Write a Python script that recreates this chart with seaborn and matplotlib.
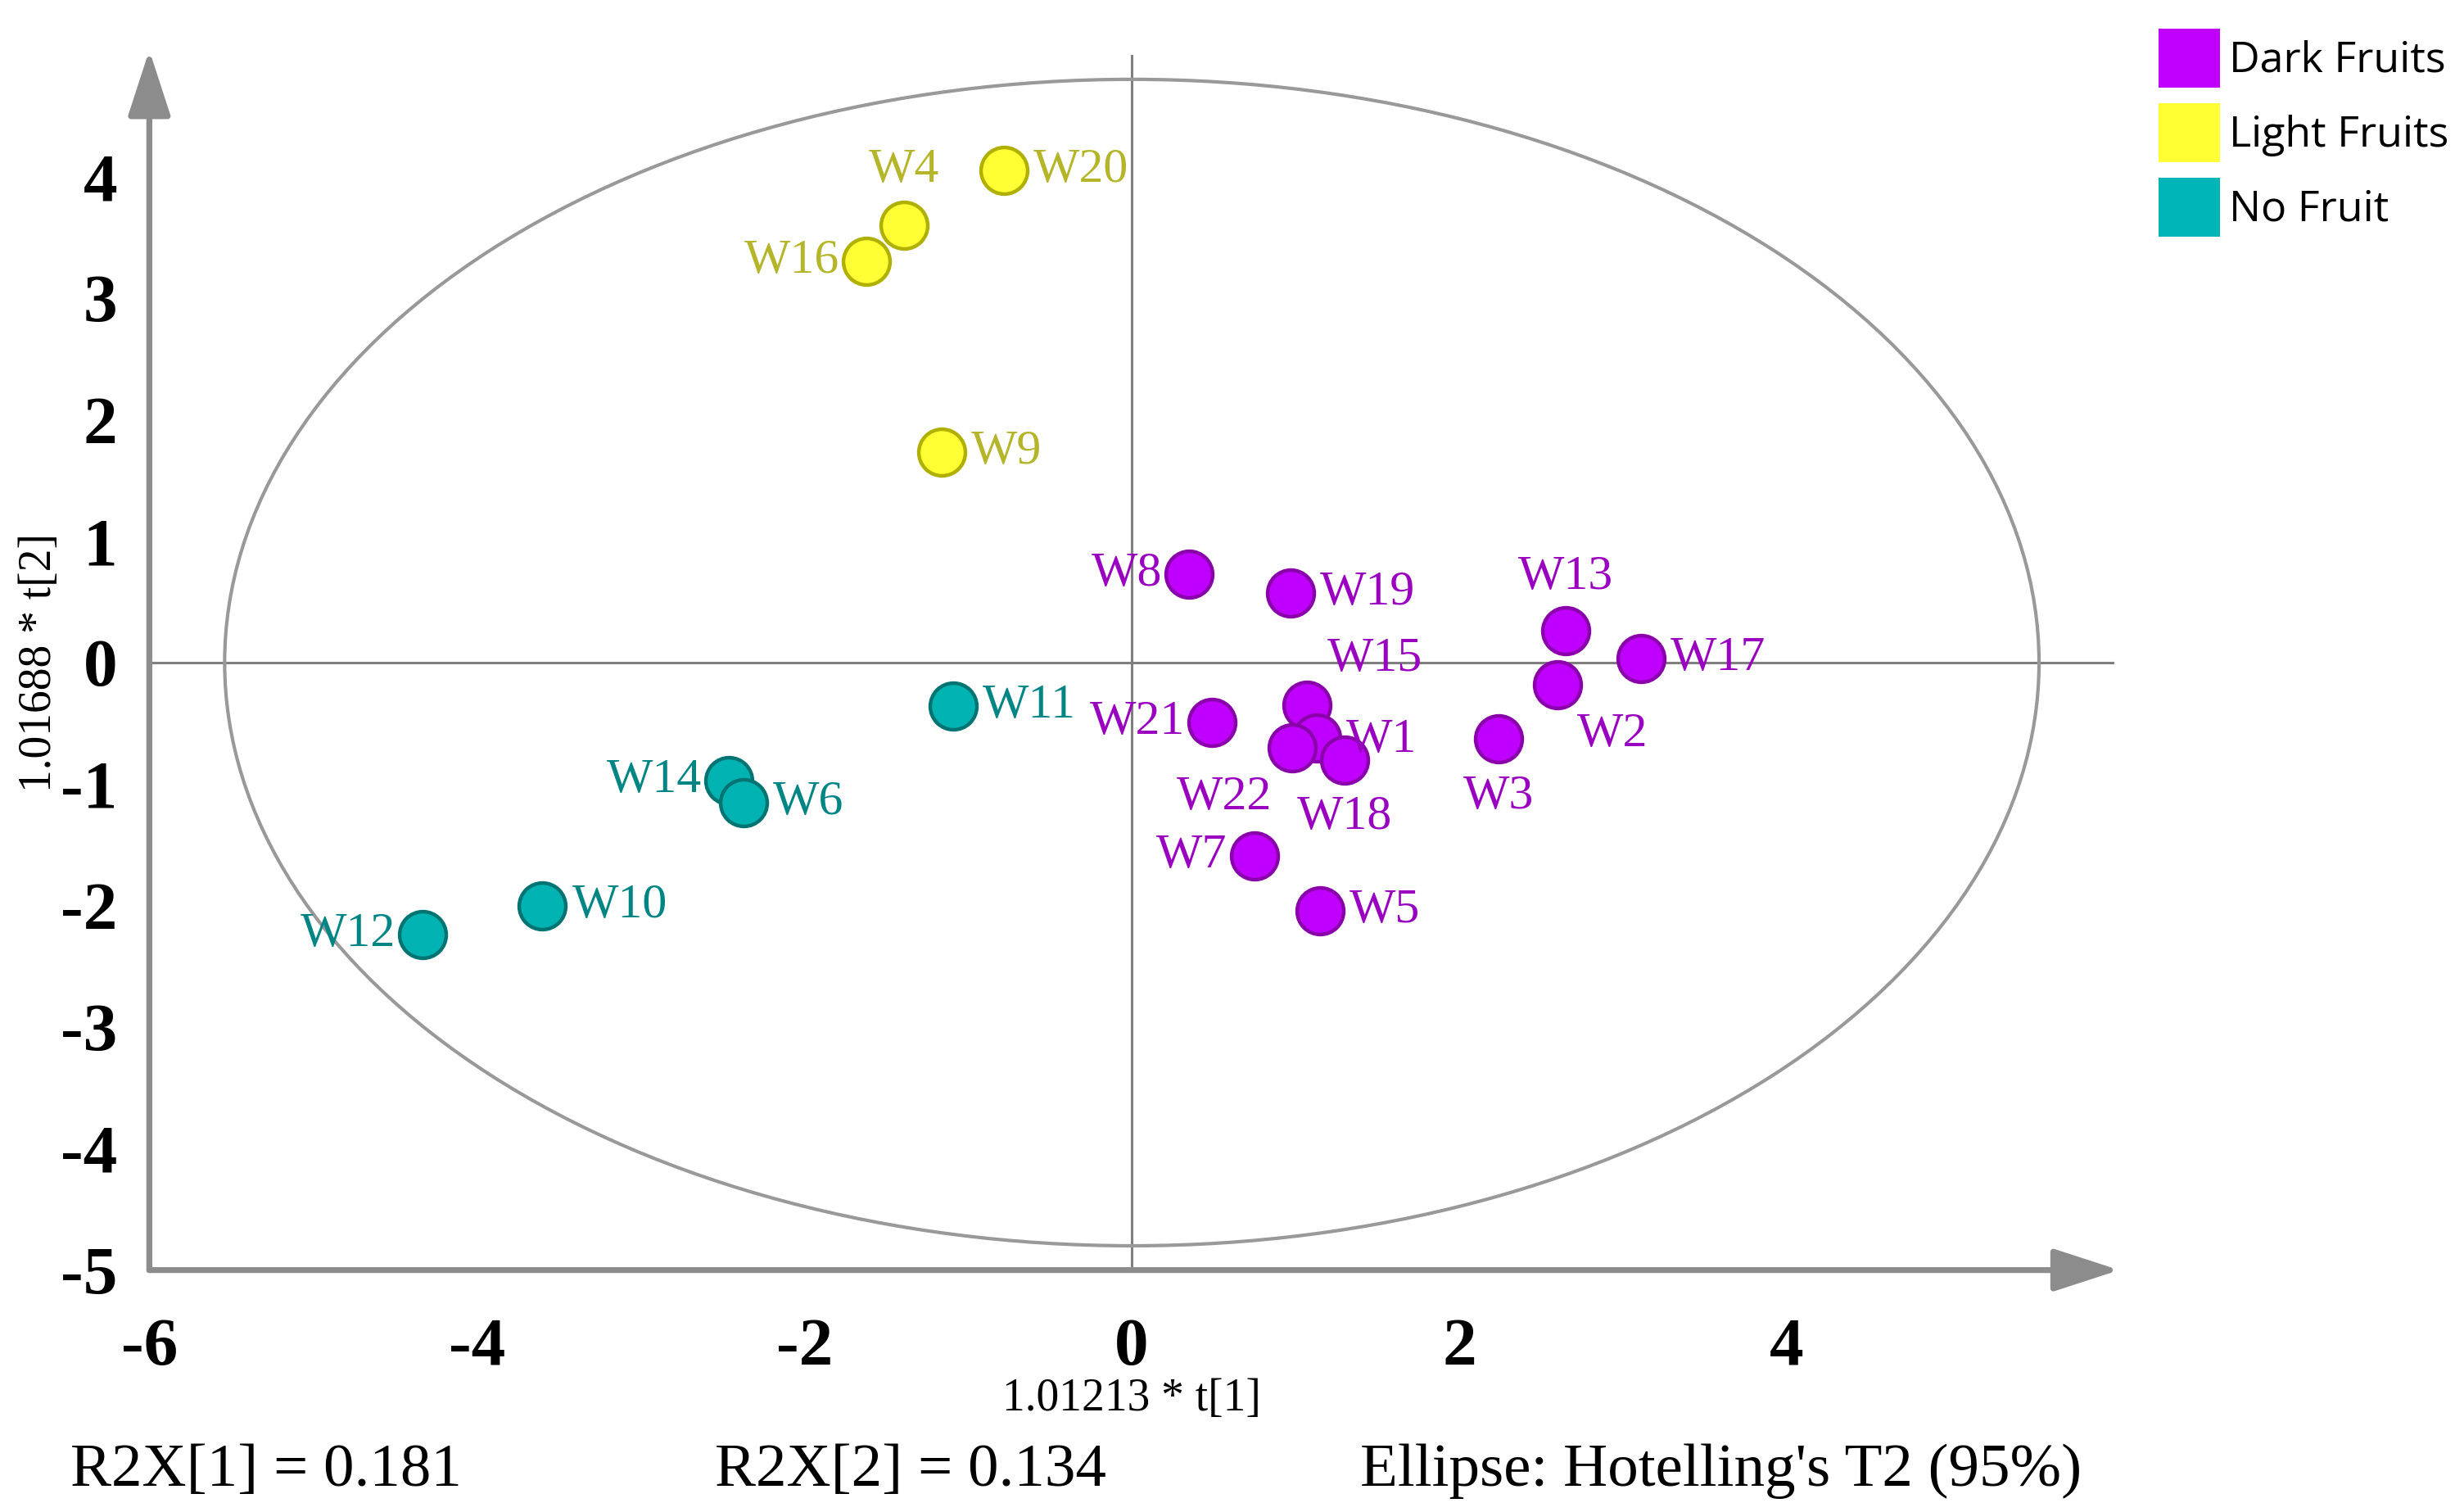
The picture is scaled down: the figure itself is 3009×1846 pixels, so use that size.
import numpy as np
import pandas as pd
import matplotlib
matplotlib.use("Agg")
import matplotlib.pyplot as plt
from matplotlib.patches import Ellipse, Patch
import seaborn as sns

# ---------------- data ----------------
samples = ["W20", "W4", "W16", "W9",
           "W11", "W14", "W6", "W10", "W12",
           "W8", "W19", "W13", "W17", "W2", "W3", "W21", "W15", "W1", "W22", "W18", "W7", "W5"]
groups = ["Light Fruits"] * 4 + ["No Fruit"] * 5 + ["Dark Fruits"] * 13
t1 = [-0.78, -1.39, -1.62, -1.16,
      -1.09, -2.46, -2.37, -3.60, -4.33,
      0.35, 0.97, 2.65, 3.11, 2.60, 2.24, 0.49, 1.07, 1.13, 0.98, 1.30, 0.75, 1.15]
t2 = [4.05, 3.60, 3.30, 1.73,
      -0.36, -0.97, -1.15, -2.00, -2.24,
      0.73, 0.57, 0.26, 0.03, -0.18, -0.63, -0.49, -0.35, -0.62, -0.70, -0.80, -1.59, -2.04]
legend_order = ["Dark Fruits", "Light Fruits", "No Fruit"]
x_major = [-6, -4, -2, 0, 2, 4]
x_minor = [-5, -3, -1, 1, 3, 5]
y_major = [-5, -4, -3, -2, -1, 0, 1, 2, 3, 4]
y_minor = [-4.5, -3.5, -2.5, -1.5, -0.5, 0.5, 1.5, 2.5, 3.5, 4.5]
ellipse_a, ellipse_b = 5.54, 4.80
r2x = [0.181, 0.134]

# label placement (side, dx pt, dy pt)
label_pos = {
    "W20": ("r", 0, 0), "W4": ("c", 0, 24), "W16": ("l", 0, 0), "W9": ("r", 0, 0),
    "W11": ("r", 0, 0), "W14": ("l", 0, 0), "W6": ("r", 0, 0), "W10": ("r", 0, 0), "W12": ("l", 0, 0),
    "W8": ("l", 0, 0), "W19": ("r", 0, 0), "W13": ("c", 0, 23.5), "W17": ("r", 0, 0),
    "W2": ("c", 24, -22), "W3": ("c", 0, -25.5), "W21": ("l", 0, 0), "W15": ("c", 30, 20),
    "W1": ("r", 0, -1), "W22": ("c", -30, -22), "W18": ("c", 0, -25.5), "W7": ("l", 0, 0), "W5": ("r", 0, 0),
}

fill_col = {"Dark Fruits": "#BF00FF", "Light Fruits": "#FFFF33", "No Fruit": "#00B3B3"}
edge_col = {"Dark Fruits": "#8A00AA", "Light Fruits": "#B0B000", "No Fruit": "#007373"}
text_col = {"Dark Fruits": "#9A00C0", "Light Fruits": "#B5B52A", "No Fruit": "#008585"}
legend_col = {"Dark Fruits": "#BF00FF", "Light Fruits": "#FFFF33", "No Fruit": "#00B5B5"}

df = pd.DataFrame({"sample": samples, "group": groups, "t1": t1, "t2": t2})

# ---------------- style ----------------
sns.set_theme(style="white")
plt.rcParams["font.family"] = ["Liberation Serif", "DejaVu Serif"]
plt.rcParams["axes.unicode_minus"] = False
plt.rcParams["text.color"] = "black"
plt.rcParams["axes.labelcolor"] = "black"
plt.rcParams["xtick.labelcolor"] = "black"
plt.rcParams["ytick.labelcolor"] = "black"

fig = plt.figure(figsize=(15.045, 9.23), dpi=200)
ax = fig.add_axes([0.0606, 0.160, 0.7975, 0.8036])
ax.set_xlim(-6, 6)
ax.set_ylim(-5, 5)

gray = "#8C8C8C"
# reference lines & ellipse
ax.axhline(0, color="#7F7F7F", lw=1.1, zorder=1)
ax.axvline(0, color="#7F7F7F", lw=1.1, zorder=1)
ax.add_patch(Ellipse((0, 0), 2 * ellipse_a, 2 * ellipse_b, fill=False,
                     ec="#999999", lw=1.5, zorder=1))

for g in ["Light Fruits", "No Fruit", "Dark Fruits"]:
    sub = df[df.group == g]
    sns.scatterplot(data=sub, x="t1", y="t2", ax=ax, color=fill_col[g],
                    edgecolor=edge_col[g], linewidth=1.6, s=420, zorder=3,
                    legend=False)

for _, r in df.iterrows():
    side, dx, dy = label_pos[r["sample"]]
    if side == "r":
        ha, dx = "left", 13 + dx
    elif side == "l":
        ha, dx = "right", -12 + dx
    else:
        ha = "center"
    ax.annotate(r["sample"], (r["t1"], r["t2"]), xytext=(dx, dy),
                textcoords="offset points", ha=ha, va="center",
                fontsize=21.5, color=text_col[r["group"]], zorder=4)

# axes with arrows
for s in ax.spines.values():
    s.set_visible(False)
arrow = dict(arrowstyle="-|>,head_length=0.4,head_width=0.13", color=gray,
             lw=2.6, shrinkA=0, shrinkB=0, mutation_scale=62)
ax.annotate("", xy=(6.03, -5), xytext=(-6, -5), arrowprops=arrow,
            annotation_clip=False, zorder=2)
ax.annotate("", xy=(-6, 5.04), xytext=(-6, -5), arrowprops=arrow,
            annotation_clip=False, zorder=2)

ax.set_xticks(x_major)
ax.set_xticklabels([str(v) for v in x_major])
ax.set_xticks(x_minor, minor=True)
ax.set_yticks(y_major)
ax.set_yticklabels([str(v) for v in y_major])
ax.set_yticks(y_minor, minor=True)
ax.tick_params(axis="both", which="major", direction="out", length=9, width=1.0,
               color=gray, labelsize=30, labelcolor="black")
ax.tick_params(axis="both", which="minor", direction="out", length=5, width=1.0,
               color=gray)
ax.tick_params(axis="x", which="major", pad=12)
ax.tick_params(axis="y", which="major", pad=5)
for lab in ax.get_xticklabels() + ax.get_yticklabels():
    lab.set_fontweight("bold")

ax.set_xlabel("1.01213 * t[1]", fontsize=20, color="black")
ax.xaxis.set_label_coords(0.5, -0.106)
ax.xaxis.label.set_va("center")
ax.set_ylabel("1.01688 * t[2]", fontsize=20, color="black")
ax.yaxis.set_label_coords(-0.056, 0.5)
ax.yaxis.label.set_va("center")

# bottom annotations
fig.text(0.0287, 0.027, f"R2X[1] = {r2x[0]}", fontsize=27, va="center", color="black")
fig.text(0.290, 0.027, f"R2X[2] = {r2x[1]}", fontsize=27, va="center", color="black")
fig.text(0.552, 0.027, "Ellipse: Hotelling's T2 (95%)", fontsize=27, va="center", color="black")

# legend
handles = [Patch(facecolor=legend_col[g], edgecolor="none", label=g) for g in legend_order]
leg = fig.legend(handles=handles, loc="upper left", bbox_to_anchor=(0.876, 0.981),
                 frameon=False, borderaxespad=0, borderpad=0, handlelength=1.45,
                 handleheight=1.75, labelspacing=0.37, handletextpad=0.2,
                 prop={"family": ["Open Sans", "DejaVu Sans"], "size": 18.7})
for t in leg.get_texts():
    t.set_color("black")

fig.savefig("out.png", dpi=200)
